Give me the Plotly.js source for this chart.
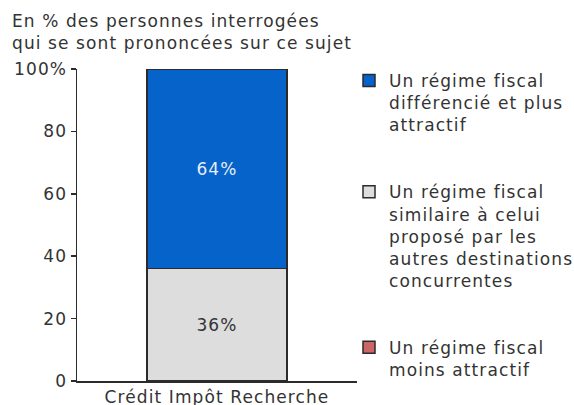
<!DOCTYPE html>
<html>
<head>
<meta charset="utf-8">
<script src="https://cdn.plot.ly/plotly-3.0.1.min.js"></script>
<style>html,body{margin:0;padding:0;background:#fff;}#chart{width:574px;height:405px;}
svg text{letter-spacing:1.1px;}</style>
</head>
<body>
<div id="chart"></div>
<script>
const categories = ["Crédit Impôt Recherche"];
const seriesNames = [
  "Un régime fiscal<br>moins attractif",
  "Un régime fiscal<br>similaire à celui<br>proposé par les<br>autres destinations<br>concurrentes",
  "Un régime fiscal<br>différencié et plus<br>attractif"
];
const moinsAttractif = [0];
const similaire = [36];
const plusAttractif = [64];
const yTickVals = [0, 20, 40, 60, 80, 100];
const yTickText = ["0", "20", "40", "60", "80", "100%"];
const titleText = "En % des personnes interrogées<br>qui se sont prononcées sur ce sujet";

const FONT = "DejaVu Sans, Verdana, sans-serif";
const TXT = "#333333";
const line = {color: "#2b2b2b", width: 1.5};

const traces = [
  {type: "bar", x: categories, y: moinsAttractif, name: seriesNames[0], legendgroup: "c", legendrank: 3,
   marker: {color: "#CC6666", line: line}, width: 0.5, hoverinfo: "skip", textposition: "none"},
  {type: "bar", x: categories, y: similaire, name: seriesNames[1], legendgroup: "b", legendrank: 2,
   marker: {color: "#DDDDDD", line: line}, width: 0.5,
   texttemplate: "%{y}%", textposition: "inside", insidetextanchor: "middle",
   textfont: {family: FONT, size: 17, color: TXT}, hoverinfo: "skip"},
  {type: "bar", x: categories, y: plusAttractif, name: seriesNames[2], legendgroup: "a", legendrank: 1,
   marker: {color: "#0563C9", line: line}, width: 0.5,
   texttemplate: "%{y}%", textposition: "inside", insidetextanchor: "middle",
   textfont: {family: FONT, size: 17, color: "#E6ECF8"}, hoverinfo: "skip"}
];

const layout = {
  width: 574, height: 405,
  margin: {l: 77, r: 217, t: 69, b: 24, pad: 0, autoexpand: false},
  paper_bgcolor: "#ffffff", plot_bgcolor: "#ffffff",
  font: {family: FONT, size: 17, color: TXT},
  barmode: "stack",
  showlegend: true,
  title: {text: titleText, x: 12/574, xanchor: "left", xref: "container",
          y: 1 - 27/405, yanchor: "top", yref: "container",
          font: {family: FONT, size: 17, color: TXT}, pad: {t: 0, b: 0, l: 0, r: 0}},
  xaxis: {type: "category", range: [-0.5, 0.5], showline: true, linecolor: "#2b2b2b", linewidth: 1.5,
          ticks: "", showgrid: false, zeroline: false, fixedrange: true, automargin: false,
          tickfont: {family: FONT, size: 17, color: TXT}},
  yaxis: {range: [0, 100], tickvals: yTickVals, ticktext: yTickText, showline: true,
          linecolor: "#2b2b2b", linewidth: 1.5, ticks: "outside", ticklen: 5, tickwidth: 1.5,
          tickcolor: "#2b2b2b", showgrid: false, zeroline: false, fixedrange: true, automargin: false,
          tickfont: {family: FONT, size: 17, color: TXT}},
  legend: {x: 349/574, xref: "container", xanchor: "left", y: 1 - 63/405, yref: "container", yanchor: "top",
           traceorder: "grouped", maxheight: 400,
           tracegroupgap: 42, font: {family: FONT, size: 17, color: TXT},
           bgcolor: "rgba(0,0,0,0)", borderwidth: 0, itemwidth: 30, valign: "top"}
};

Plotly.newPlot("chart", traces, layout, {displayModeBar: false, staticPlot: true});
</script>
</body>
</html>
